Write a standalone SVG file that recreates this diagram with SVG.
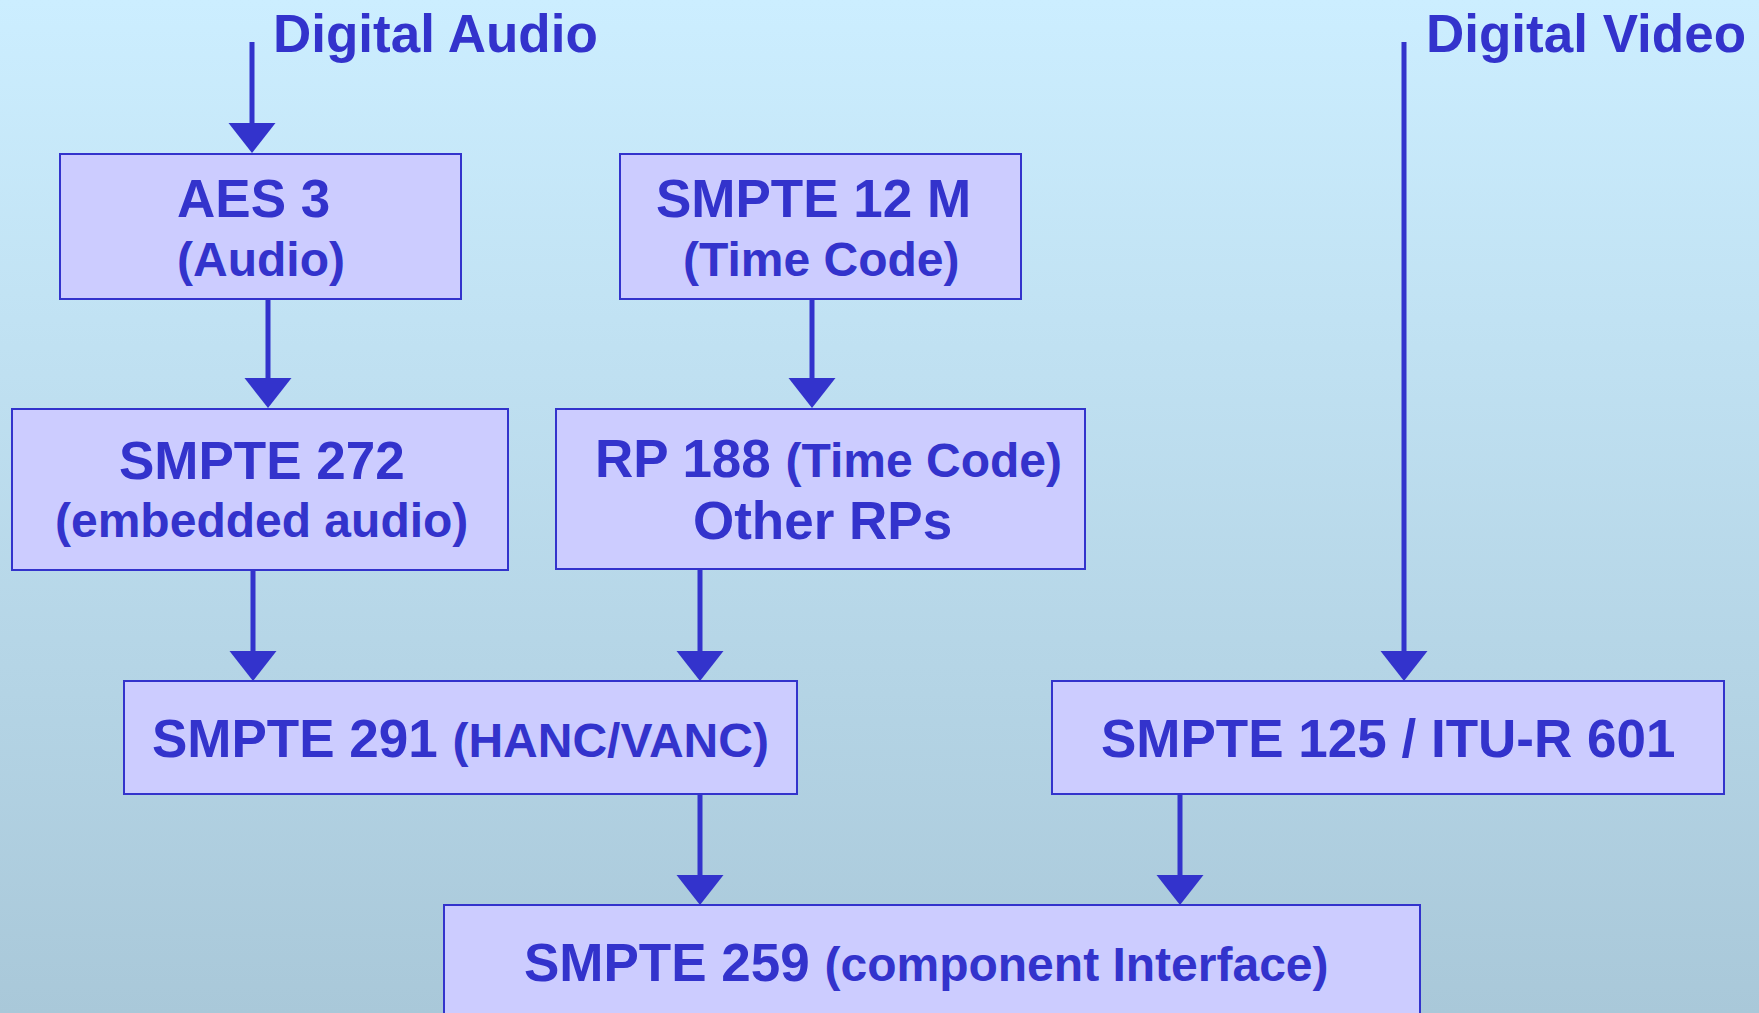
<svg xmlns="http://www.w3.org/2000/svg" width="1759" height="1013" viewBox="0 0 1759 1013">
<style>
.box{fill:#CCCCFF;stroke:#3333CC;stroke-width:2}
.t{font-family:"Liberation Sans",Arial,sans-serif;font-weight:bold;font-size:53px;fill:#3333CC}
.s{font-size:48px}
.c{stroke:#3333CC;stroke-width:5;fill:none;marker-end:url(#ah)}
</style>
<defs>
<linearGradient id="bg" x1="0" y1="0" x2="0" y2="1">
<stop offset="0" stop-color="#CCEEFF"/>
<stop offset="1" stop-color="#A9C8D9"/>
</linearGradient>
<marker id="ah" markerUnits="userSpaceOnUse" markerWidth="32" markerHeight="50" refX="0" refY="24" orient="auto" viewBox="0 0 32 50">
<path d="M0,0.5 L30,24 L0,47.5 z" fill="#3333CC"/>
</marker>
</defs>
<rect width="1759" height="1013" fill="url(#bg)"/>
<g id="connectors">
<line class="c" x1="252" y1="42" x2="252" y2="123"/>
<line class="c" x1="268" y1="299" x2="268" y2="378"/>
<line class="c" x1="812" y1="299" x2="812" y2="378"/>
<line class="c" x1="253" y1="570" x2="253" y2="651"/>
<line class="c" x1="700" y1="569" x2="700" y2="651"/>
<line class="c" x1="1404" y1="42" x2="1404" y2="651"/>
<line class="c" x1="700" y1="794" x2="700" y2="875"/>
<line class="c" x1="1180" y1="794" x2="1180" y2="875"/>
</g>
<g id="label-audio"><text class="t" x="273" y="52">Digital Audio</text></g>
<g id="label-video"><text class="t" x="1426" y="52">Digital Video</text></g>
<g id="aes3">
<rect class="box" x="60" y="154" width="401" height="145"/>
<text class="t" x="177" y="217">AES 3</text>
<text class="t s" x="177" y="276">(Audio)</text>
</g>
<g id="smpte12m">
<rect class="box" x="620" y="154" width="401" height="145"/>
<text class="t" x="656" y="217">SMPTE 12 M</text>
<text class="t s" x="683" y="276">(Time Code)</text>
</g>
<g id="smpte272">
<rect class="box" x="12" y="409" width="496" height="161"/>
<text class="t" x="119" y="479">SMPTE 272</text>
<text class="t s" x="55" y="537">(embedded audio)</text>
</g>
<g id="rp188">
<rect class="box" x="556" y="409" width="529" height="160"/>
<text class="t" x="595" y="477">RP 188 <tspan class="s">(Time Code)</tspan></text>
<text class="t" x="693" y="539">Other RPs</text>
</g>
<g id="smpte291">
<rect class="box" x="124" y="681" width="673" height="113"/>
<text class="t" x="152" y="757">SMPTE 291 <tspan class="s">(HANC/VANC)</tspan></text>
</g>
<g id="smpte125">
<rect class="box" x="1052" y="681" width="672" height="113"/>
<text class="t" x="1101" y="757">SMPTE 125 / ITU-R 601</text>
</g>
<g id="smpte259">
<rect class="box" x="444" y="905" width="976" height="130"/>
<text class="t" x="524" y="981">SMPTE 259 <tspan class="s">(component Interface)</tspan></text>
</g>
</svg>
